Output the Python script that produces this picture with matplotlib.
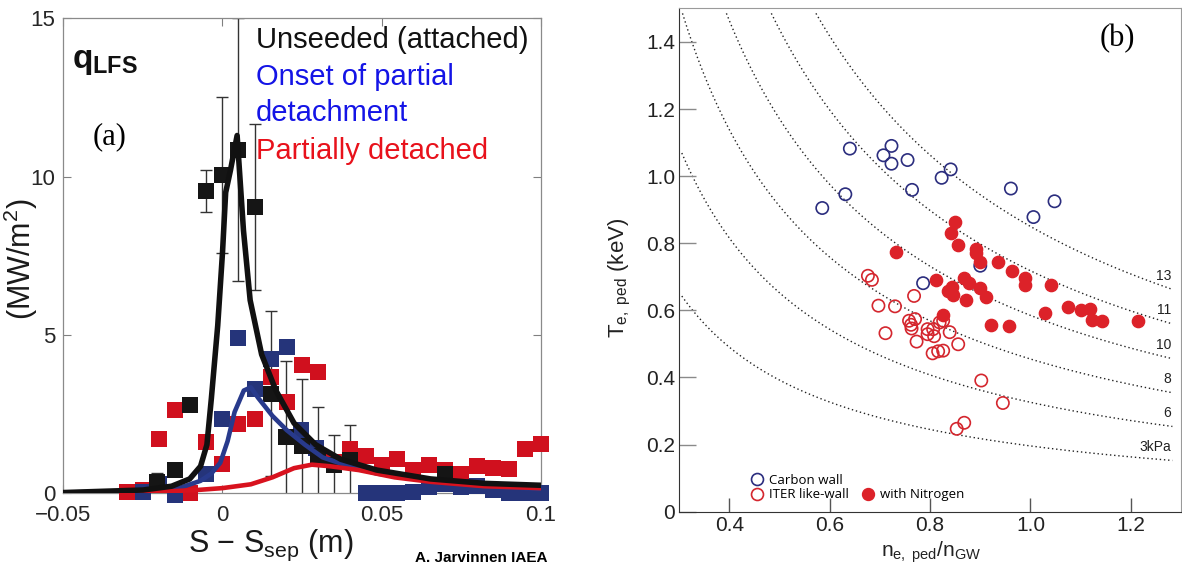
import matplotlib
matplotlib.use('Agg')
import matplotlib.pyplot as plt
from matplotlib.lines import Line2D
import numpy as np

plt.rcParams['font.family'] = ['Liberation Sans', 'DejaVu Sans']
plt.rcParams['mathtext.fontset'] = 'custom'
plt.rcParams['mathtext.rm'] = 'Liberation Sans'
plt.rcParams['mathtext.it'] = 'Liberation Sans'
plt.rcParams['mathtext.bf'] = 'Liberation Sans:bold'
plt.rcParams['mathtext.default'] = 'regular'

# ---- panel (a): q_LFS profiles ----
black_s = [-0.0205, -0.0150, -0.0103, -0.0052, 0.0, 0.0050, 0.0103, 0.0151, 0.0201, 0.0250, 0.0300, 0.0350, 0.0400, 0.0700]
black_q = [0.35, 0.75, 2.80, 9.55, 10.05, 10.85, 9.05, 3.15, 1.78, 1.50, 1.18, 0.90, 1.05, 0.60]
black_err = [0.30, 0.0, 0.0, 0.65, 2.45, 4.15, 2.62, 2.60, 2.40, 2.10, 1.55, 0.95, 1.10, 0.25]

blue_s = [-0.025, -0.020, -0.0148, -0.0052, 0.0, 0.005, 0.0101, 0.0151, 0.0202, 0.0247, 0.0293,
          0.045, 0.050, 0.055, 0.060, 0.065, 0.070, 0.075, 0.080, 0.085, 0.090, 0.095, 0.100]
blue_q = [0.06, 0.29, -0.06, 0.63, 2.34, 4.90, 3.31, 4.25, 4.62, 2.00, 1.43,
          0.0, 0.0, 0.0, 0.05, 0.20, 0.30, 0.20, 0.25, 0.10, 0.0, 0.0, 0.0]

red_s = [-0.030, -0.025, -0.0201, -0.015, -0.0103, -0.0052, 0.0, 0.005, 0.0101, 0.0151, 0.0202, 0.0251, 0.030,
         0.035, 0.040, 0.045, 0.050, 0.055, 0.060, 0.065, 0.070, 0.075, 0.080, 0.085, 0.090, 0.095, 0.100]
red_q = [0.05, 0.10, 1.72, 2.65, 0.0, 1.62, 0.92, 2.20, 2.35, 3.68, 2.88, 4.05, 3.85,
         1.00, 1.40, 1.18, 0.91, 1.10, 0.74, 0.91, 0.74, 0.63, 0.86, 0.80, 0.76, 1.40, 1.56]

black_line_s = [-0.05, -0.025, -0.016, -0.0103, -0.0069, -0.0049, -0.0035, -0.0015, 0.0, 0.001, 0.0025, 0.0046,
                0.0066, 0.0087, 0.0123, 0.0168, 0.0225, 0.0293, 0.0372, 0.0485, 0.0654, 0.0823, 0.1]
black_line_q = [0.03, 0.11, 0.23, 0.46, 0.86, 1.54, 3.0, 5.3, 7.6, 9.5, 10.2, 11.3,
                8.3, 6.1, 4.39, 3.25, 2.22, 1.54, 1.08, 0.74, 0.46, 0.32, 0.26]

blue_line_s = [-0.05, -0.025, -0.0137, -0.0069, -0.0035, -0.0007, 0.0016, 0.0038, 0.0067, 0.0089, 0.0112,
               0.0157, 0.0202, 0.0259, 0.0315, 0.0383, 0.0485, 0.0654, 0.0823, 0.1]
blue_line_q = [0.03, 0.08, 0.17, 0.40, 0.63, 0.97, 1.65, 2.57, 3.25, 3.35, 3.02,
               2.45, 2.00, 1.54, 1.14, 0.91, 0.63, 0.40, 0.23, 0.15]

red_line_s = [-0.05, -0.025, -0.008, 0.0, 0.0089, 0.0157, 0.0225, 0.0281, 0.0338, 0.0428, 0.0541, 0.0654, 0.0823, 0.1]
red_line_q = [0.03, 0.03, 0.11, 0.17, 0.29, 0.51, 0.80, 0.91, 0.86, 0.74, 0.51, 0.37, 0.23, 0.17]

a_xticks = [-0.05, 0, 0.05, 0.1]
a_xlabels = ['\u22120.05', '0', '0.05', '0.1']
a_yticks = [0, 5, 10, 15]

series_text = ['Unseeded (attached)', 'Onset of partial', 'detachment', 'Partially detached']
series_color = ['#111111', '#1414e6', '#1414e6', '#e8111b']

# ---- panel (b): pedestal Te vs density ----
carbon_n = [0.585, 0.631, 0.640, 0.707, 0.723, 0.723, 0.755, 0.764, 0.823, 0.841, 0.961, 1.006, 1.048, 0.900, 0.786]
carbon_T = [0.905, 0.946, 1.082, 1.062, 1.090, 1.037, 1.048, 0.959, 0.995, 1.020, 0.963, 0.878, 0.925, 0.733, 0.681]

ilw_n = [0.676, 0.684, 0.697, 0.730, 0.768, 0.711, 0.758, 0.770, 0.763, 0.762, 0.773, 0.795, 0.795, 0.806,
         0.808, 0.819, 0.826, 0.839, 0.856, 0.805, 0.816, 0.826, 0.902, 0.945, 0.853, 0.868]
ilw_T = [0.703, 0.691, 0.614, 0.612, 0.643, 0.532, 0.569, 0.574, 0.546, 0.557, 0.507, 0.544, 0.529, 0.544,
         0.523, 0.564, 0.569, 0.535, 0.499, 0.472, 0.478, 0.480, 0.391, 0.324, 0.247, 0.265]

nitro_n = [0.849, 0.841, 0.856, 0.732, 0.891, 0.891, 0.899, 0.935, 0.963, 0.990, 0.990, 1.040, 0.811, 0.868,
           0.878, 0.843, 0.836, 0.845, 0.871, 0.900, 0.912, 0.825, 0.922, 0.958, 1.029, 1.075, 1.100, 1.118,
           1.123, 1.143, 1.215]
nitro_T = [0.864, 0.832, 0.795, 0.774, 0.782, 0.770, 0.743, 0.745, 0.716, 0.695, 0.676, 0.677, 0.690, 0.695,
           0.683, 0.671, 0.658, 0.646, 0.631, 0.666, 0.639, 0.587, 0.557, 0.552, 0.593, 0.610, 0.600, 0.604,
           0.572, 0.568, 0.568]

# iso-pressure curves T = c / n
pressure_c = [0.196, 0.326, 0.455, 0.585, 0.718, 0.850]
pressure_lbl = ['3kPa', '6', '8', '10', '11', '13']

b_xticks = [0.4, 0.6, 0.8, 1.0, 1.2]
b_xlabels = ['0.4', '0.6', '0.8', '1.0', '1.2']
b_yticks = [0, 0.2, 0.4, 0.6, 0.8, 1.0, 1.2, 1.4]
b_ylabels = ['0', '0.2', '0.4', '0.6', '0.8', '1.0', '1.2', '1.4']

fig = plt.figure(figsize=(11.82, 5.66), dpi=100)

# ======== (a) ========
ax = fig.add_axes([0.0537, 0.1281, 0.4036, 0.8396])
ax.errorbar(black_s, black_q, yerr=black_err, fmt='none', ecolor='#333333',
            elinewidth=1, capsize=4, capthick=1, zorder=2)
ax.plot(red_s, red_q, 's', ms=11, mew=0, color='#d0101e', zorder=3, clip_on=False)
ax.plot(blue_s, blue_q, 's', ms=11, mew=0, color='#25347a', zorder=3.1, clip_on=False)
ax.plot(black_s, black_q, 's', ms=11, mew=0, color='#151515', zorder=3.2, clip_on=False)
ax.plot(blue_line_s, blue_line_q, '-', lw=3.3, color='#283a8c', zorder=4, solid_joinstyle='round')
ax.plot(red_line_s, red_line_q, '-', lw=3.3, color='#d8121e', zorder=4.5, solid_joinstyle='round')
ax.plot(black_line_s, black_line_q, '-', lw=4.0, color='#111111', zorder=5, solid_joinstyle='round')

ax.set_xlim(-0.05, 0.1)
ax.set_ylim(0, 15)
ax.set_xticks(a_xticks)
ax.set_xticklabels(a_xlabels)
ax.set_yticks(a_yticks)
ax.tick_params(direction='in', length=6, width=0.8, color='#808080', labelcolor='#262626',
               labelsize=16, top=True, right=True)
ax.tick_params(axis='x', pad=8)
ax.tick_params(axis='y', pad=6)
for sp in ax.spines.values():
    sp.set_color('#8a8a8a')
    sp.set_linewidth(0.9)

ax.set_xlabel('S \u2212 S$_{sep}$ (m)', fontsize=22, color='#1a1a1a')
ax.xaxis.set_label_coords(0.435, -0.072)
ax.set_ylabel('(MW/m$^2$)', fontsize=22, color='#1a1a1a')
ax.yaxis.set_label_coords(-0.05, 0.493)

ax.text(0.017, 0.909, r'$\mathbf{q_{LFS}}$', transform=ax.transAxes, fontsize=24,
        ha='left', va='center', color='#111111')
ax.text(0.096, 0.751, '(a)', transform=ax.transAxes, fontsize=22, ha='center', va='center',
        family=['Liberation Serif', 'DejaVu Serif'])
for i, (t, c) in enumerate(zip(series_text, series_color)):
    ax.text(0.403, [0.955, 0.877, 0.801, 0.721][i], t, transform=ax.transAxes, fontsize=21,
            color=c, ha='left', va='center', zorder=6)

fig.text(0.351, 0.001, 'A. Jarvinnen IAEA', fontsize=11, fontweight='bold', ha='left', va='bottom')

# ======== (b) ========
bx = fig.add_axes([0.5747, 0.0959, 0.4244, 0.8894])
for c, lbl in zip(pressure_c, pressure_lbl):
    n = np.linspace(max(0.305, c / 1.485), 1.283, 300)
    bx.plot(n, c / n, color='#222222', lw=1.0, ls=(0, (1, 2)), zorder=1)
    bx.annotate(lbl, (1.281, c / 1.281), xytext=(0, 4.5), textcoords='offset points',
                ha='right', va='bottom', fontsize=10, color='#222222')

bx.scatter(carbon_n, carbon_T, s=78, facecolors='none', edgecolors='#2b2d7e', linewidths=1.2, zorder=3)
bx.scatter(ilw_n, ilw_T, s=78, facecolors='none', edgecolors='#d4262e', linewidths=1.2, zorder=3)
bx.scatter(nitro_n, nitro_T, s=78, facecolors='#dc2229', edgecolors='#dc2229', linewidths=1.0, zorder=4)

h1 = Line2D([], [], ls='none', marker='o', ms=8.6, mfc='none', mec='#2b2d7e', mew=1.2)
h2 = Line2D([], [], ls='none', marker='o', ms=8.6, mfc='none', mec='#d4262e', mew=1.2)
h3 = Line2D([], [], ls='none', marker='o', ms=8.6, mfc='#dc2229', mec='#dc2229', mew=1.0)
blank = Line2D([], [], ls='none', marker='none')
bx.legend([h1, h2, blank, h3], ['Carbon wall', 'ITER like-wall', '', 'with Nitrogen'],
          ncol=2, loc='lower left', bbox_to_anchor=(0.12, 0.0), frameon=False,
          prop={'family': 'Open Sans', 'size': 9.5}, handlelength=1.0, handletextpad=0.45,
          columnspacing=0.9, labelspacing=0.1, borderpad=0.3, numpoints=1)

bx.set_xlim(0.3, 1.3)
bx.set_ylim(0, 1.5)
bx.set_xticks(b_xticks)
bx.set_xticklabels(b_xlabels)
bx.set_yticks(b_yticks)
bx.set_yticklabels(b_ylabels)
bx.tick_params(direction='in', labelsize=15, labelcolor='#222222')
bx.tick_params(axis='x', length=10, width=1, color='#555555', pad=3)
bx.tick_params(axis='y', length=12, width=1, color='#8a8a8a', pad=3)
bx.spines['left'].set_color('#333333')
bx.spines['bottom'].set_color('#333333')
bx.spines['top'].set_color('#9a9a9a')
bx.spines['right'].set_color('#9a9a9a')

bx.set_xlabel('n$_{e,\\ ped}$/n$_{GW}$', fontsize=15, color='#222222')
bx.xaxis.set_label_coords(0.502, -0.055)
bx.set_ylabel('T$_{e,\\ ped}$ (keV)', fontsize=16, color='#222222')
bx.yaxis.set_label_coords(-0.092, 0.464)
bx.text(0.874, 0.939, '(b)', transform=bx.transAxes, fontsize=22, ha='center', va='center',
        family=['Liberation Serif', 'DejaVu Serif'])

fig.savefig('out.png', dpi=100)
